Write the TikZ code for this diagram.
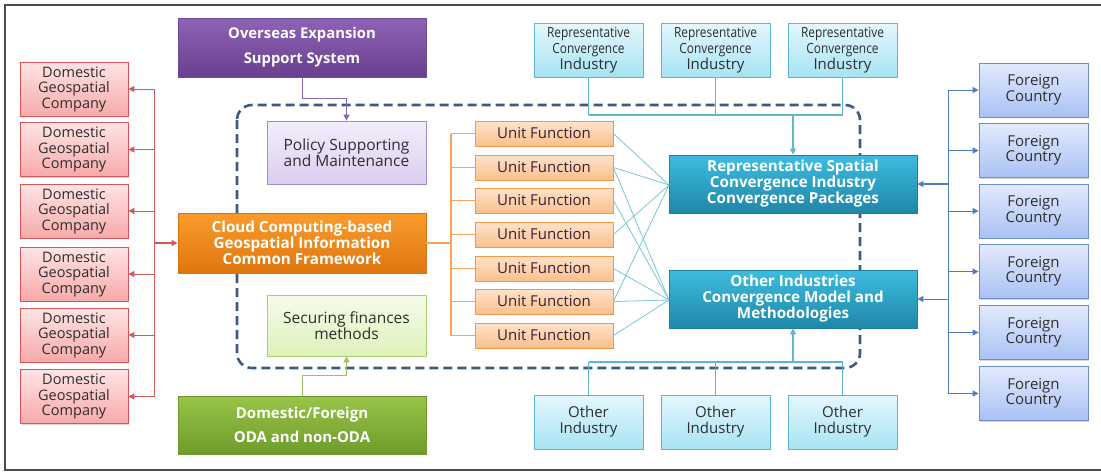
\documentclass[tikz,border=0pt]{standalone}
\usepackage{fontspec}
\setmainfont{Open Sans}
\newfontfamily\condfont[FakeStretch=0.85]{Open Sans}
\usetikzlibrary{arrows.meta,shadows}
\definecolor{domB}{HTML}{D9545A}
\definecolor{domT}{HTML}{FFE4E4}
\definecolor{domBot}{HTML}{F7A9A9}
\definecolor{purT}{HTML}{8E63B5}
\definecolor{purBot}{HTML}{6A3F8F}
\definecolor{purB}{HTML}{6E4B93}
\definecolor{polT}{HTML}{F3EEFB}
\definecolor{polBot}{HTML}{DCCDF0}
\definecolor{polB}{HTML}{A08CC8}
\definecolor{oraT}{HTML}{FA9C2C}
\definecolor{oraBot}{HTML}{DE760E}
\definecolor{oraB}{HTML}{D9720F}
\definecolor{secT}{HTML}{F6FCEA}
\definecolor{secBot}{HTML}{DDF1B9}
\definecolor{secB}{HTML}{A9D06F}
\definecolor{grnT}{HTML}{98C448}
\definecolor{grnBot}{HTML}{6F9B2B}
\definecolor{grnB}{HTML}{6E982C}
\definecolor{unT}{HTML}{FEE3CB}
\definecolor{unBot}{HTML}{FBC08C}
\definecolor{unB}{HTML}{F79646}
\definecolor{teaT}{HTML}{3DBCE0}
\definecolor{teaBot}{HTML}{1F87A8}
\definecolor{teaB}{HTML}{1F7F9E}
\definecolor{indT}{HTML}{E4F7FD}
\definecolor{indBot}{HTML}{A7E3F4}
\definecolor{indB}{HTML}{5CB8D0}
\definecolor{forT}{HTML}{E2EAFD}
\definecolor{forBot}{HTML}{A9C1F4}
\definecolor{forB}{HTML}{6C8CCB}
\definecolor{dashC}{HTML}{3D5A84}
\definecolor{redL}{HTML}{CF5B5B}
\definecolor{purL}{HTML}{8A68B0}
\definecolor{grnL}{HTML}{9DC064}
\definecolor{oraL}{HTML}{F8A25A}
\definecolor{teaL}{HTML}{78C6D8}
\definecolor{indL}{HTML}{5FB7CE}
\definecolor{bluL}{HTML}{4F7EBF}
\definecolor{txtD}{HTML}{2E2E2E}
\definecolor{txtU}{HTML}{3A2036}
\newcommand\fsz[2]{\fontsize{#1}{#2}\selectfont}
\tikzset{
  base/.style={draw, align=center, inner sep=1pt, line width=0.8pt,
    drop shadow={shadow xshift=1.3pt,shadow yshift=-1.3pt,opacity=0.3}},
  dombox/.style={base, draw=domB, top color=domT, bottom color=domBot,
    minimum width=108pt, minimum height=54pt, text=txtD, font=\fsz{14.5}{15.5}},
  bigbox/.style={base, minimum width=248pt, text=white, font=\bfseries\fsz{15.2}{16}},
  polbox/.style={base, draw=polB, top color=polT, bottom color=polBot,
    minimum width=159pt, minimum height=63pt, text=txtD, font=\fsz{15.5}{15}},
  secbox/.style={base, draw=secB, top color=secT, bottom color=secBot,
    minimum width=159pt, minimum height=61pt, text=txtD, font=\fsz{15.5}{15}},
  unitbox/.style={base, draw=unB, top color=unT, bottom color=unBot,
    minimum width=138pt, minimum height=25pt, text=txtU, font=\fsz{15}{15}},
  indbox/.style={base, draw=indB, top color=indT, bottom color=indBot,
    minimum width=109pt, minimum height=54pt, text=txtD},
  forbox/.style={base, draw=forB, top color=forT, bottom color=forBot,
    minimum width=109pt, minimum height=54pt, text=txtD, font=\fsz{15}{15.5}},
  tip/.style={-{Triangle[length=6pt,width=6pt]}},
  redline/.style={draw=redL, line width=1pt},
  bluline/.style={draw=bluL, line width=1pt},
  indline/.style={draw=indL, line width=1.2pt},
  ufline/.style={draw=teaL, line width=0.8pt},
}
\begin{document}
\begin{tikzpicture}[x=1pt,y=-1pt]
\useasboundingbox (0,0) rectangle (1101,472);
\fill[white] (0,0) rectangle (1101,472);
\draw[black!70, line width=1.4pt] (1101,5) -- (5,5) -- (5,470) -- (1101,470);

% dashed frame
\draw[dashC, line width=2.6pt, dash pattern=on 9pt off 5pt, rounded corners=15pt]
  (237,105) rectangle (860,368);

% domestic column
\foreach \i/\y in {1/89,2/149.5,3/211,4/274,5/335,6/396.5}
  \node[dombox] (d\i) at (74,\y) {Domestic\\Geospatial\\Company};

% foreign column
\foreach \i/\y in {1/90,2/150.5,3/211,4/271.5,5/332.5,6/393.5}
  \node[forbox] (f\i) at (1033.5,\y) {Foreign\\Country};

% left stack
\node[bigbox, draw=purB, top color=purT, bottom color=purBot, minimum height=59pt,
  font=\bfseries\fsz{14.8}{25}] (ovs) at (302,47.5) {Overseas Expansion\\Support System};
\node[polbox] (pol) at (346.5,152.5) {Policy Supporting\\and Maintenance};
\node[bigbox, draw=oraB, top color=oraT, bottom color=oraBot, minimum height=60pt]
  (ccb) at (302,243) {Cloud Computing-based\\Geospatial Information\\Common Framework};
\node[secbox] (sec) at (346.5,325.5) {Securing finances\\methods};
\node[bigbox, draw=grnB, top color=grnT, bottom color=grnBot, minimum height=58pt,
  font=\bfseries\fsz{15}{24}] (oda) at (302,425) {Domestic/Foreign\\ODA and non-ODA};

% unit functions
\foreach \i/\y in {1/133.5,2/167.5,3/200.5,4/234.5,5/268.5,6/301.5,7/335.5}
  \node[unitbox] (u\i) at (544,\y) {Unit Function};

% teal boxes
\node[bigbox, draw=teaB, top color=teaT, bottom color=teaBot, minimum height=58pt]
  (rep) at (793,184) {Representative Spatial\\Convergence Industry\\Convergence Packages};
\node[bigbox, draw=teaB, top color=teaT, bottom color=teaBot, minimum height=58pt]
  (oth) at (793,299) {Other Industries\\Convergence Model and\\Methodologies};

% industry boxes
\foreach \i/\x in {1/588.5,2/715.5,3/842.5}{
  \node[indbox, font=\condfont\fsz{14}{16}] (t\i) at (\x,50)
    {Representative\\Convergence\\\normalfont\fsz{15}{16}Industry};
  \node[indbox, font=\fsz{15}{16}] (b\i) at (\x,422) {Other\\Industry};
}

% red connectors
\coordinate (rtop) at (154,89);
\coordinate (rbot) at (154,396.5);
\draw[redline] (rtop) -- (rbot);
\foreach \i in {1,...,6}
  \draw[redline, tip] (rtop |- d\i.east) -- (d\i.east);
\draw[redline, line width=1.6pt, tip] (rtop |- ccb.west) -- (ccb.west);

% overseas -> policy
\coordinate (o1) at (302,98);
\draw[purL, line width=1pt, tip] (ovs.south) -- (o1) -| (pol.north);
% oda -> securing
\coordinate (g1) at (302,375);
\draw[grnL, line width=1pt, tip] (oda.north) -- (g1) -| (sec.south);

% orange tree
\coordinate (otop) at (451,133.5);
\coordinate (obot) at (451,335.5);
\draw[oraL, line width=1.2pt] (ccb.east) -- (ccb.east -| otop);
\draw[oraL, line width=1.2pt] (otop) -- (obot);
\foreach \i in {1,...,7}
  \draw[oraL, line width=1.2pt] (otop |- u\i.west) -- (u\i.west);

% unit -> teal
\coordinate (rin) at (669,185);
\coordinate (oin) at (669,300);
\foreach \i in {1,2,4,6}
  \draw[ufline] (u\i.east) -- (rin);
\foreach \i in {2,3,5,6,7}
  \draw[ufline] (u\i.east) -- (oin);

% industries -> teal
\coordinate (th) at (588.5,115);
\coordinate (bh) at (588.5,362);
\foreach \i in {1,2,3}{
  \draw[indline] (t\i.south) -- (t\i.south |- th);
  \draw[indline] (b\i.north) -- (b\i.north |- bh);
}
\draw[indline] (t1.south |- th) -- (t3.south |- th);
\draw[indline] (b1.north |- bh) -- (b3.north |- bh);
\draw[indline, line width=1.6pt, tip] (rep.north |- th) -- (rep.north);
\draw[indline, line width=1.6pt, tip] (oth.south |- bh) -- (oth.south);

% blue connectors
\coordinate (btop) at (948,90);
\coordinate (bbot) at (948,393.5);
\draw[bluline] (btop) -- (bbot);
\foreach \i in {1,...,6}
  \draw[bluline, tip] (btop |- f\i.west) -- (f\i.west);
\draw[bluline, line width=1.6pt, tip] (btop |- rep.east) -- (rep.east);
\draw[bluline, tip] (btop |- oth.east) -- (oth.east);
\end{tikzpicture}
\end{document}
